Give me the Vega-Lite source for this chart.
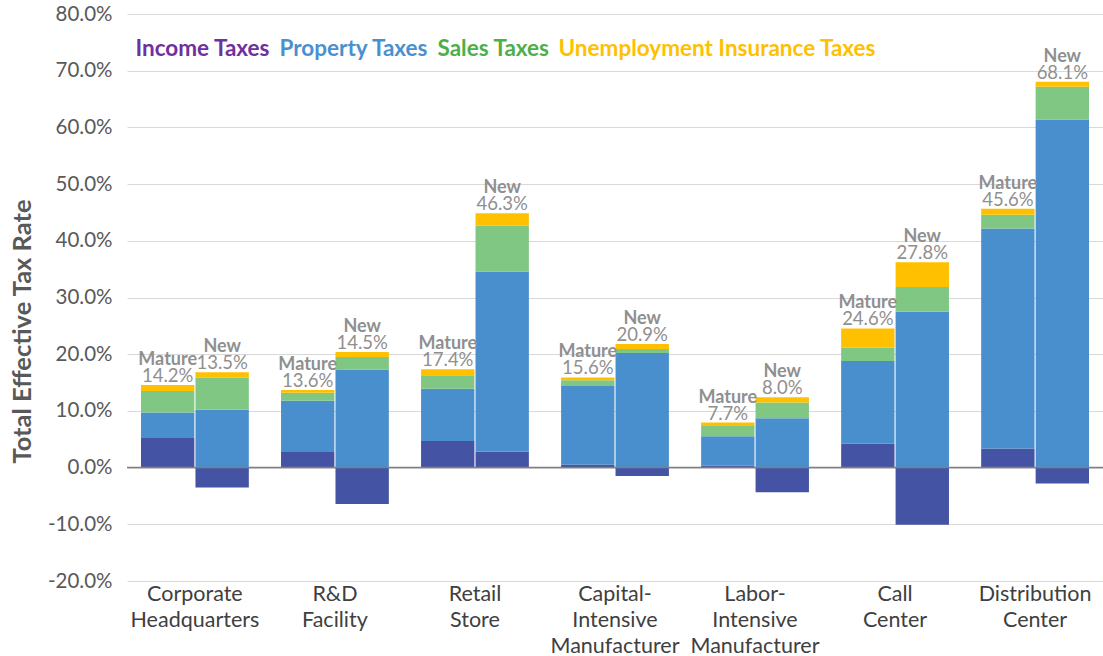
{
  "$schema": "https://vega.github.io/schema/vega-lite/v6.json",
  "width": 976,
  "height": 567,
  "autosize": {"type": "none"},
  "padding": {"left": 127, "top": 14, "right": 0, "bottom": 75},
  "background": "white",
  "config": {"font": "Lato", "view": {"stroke": null}},
  "data": {"values": [
    {"category": "Corporate Headquarters", "vintage": "Mature", "Income Taxes": 5.2, "Property Taxes": 4.5, "Sales Taxes": 3.8, "Unemployment Insurance Taxes": 1.05, "total": 0.142},
    {"category": "Corporate Headquarters", "vintage": "New", "Income Taxes": -3.5, "Property Taxes": 10.2, "Sales Taxes": 5.7, "Unemployment Insurance Taxes": 0.9, "total": 0.135},
    {"category": "R&D Facility", "vintage": "Mature", "Income Taxes": 2.9, "Property Taxes": 8.9, "Sales Taxes": 1.4, "Unemployment Insurance Taxes": 0.5, "total": 0.136},
    {"category": "R&D Facility", "vintage": "New", "Income Taxes": -6.4, "Property Taxes": 17.3, "Sales Taxes": 2.2, "Unemployment Insurance Taxes": 0.9, "total": 0.145},
    {"category": "Retail Store", "vintage": "Mature", "Income Taxes": 4.7, "Property Taxes": 9.2, "Sales Taxes": 2.4, "Unemployment Insurance Taxes": 1.05, "total": 0.174},
    {"category": "Retail Store", "vintage": "New", "Income Taxes": 2.8, "Property Taxes": 31.8, "Sales Taxes": 8.05, "Unemployment Insurance Taxes": 2.2, "total": 0.463},
    {"category": "Capital-Intensive Manufacturer", "vintage": "Mature", "Income Taxes": 0.5, "Property Taxes": 13.9, "Sales Taxes": 1.0, "Unemployment Insurance Taxes": 0.5, "total": 0.156},
    {"category": "Capital-Intensive Manufacturer", "vintage": "New", "Income Taxes": -1.5, "Property Taxes": 20.2, "Sales Taxes": 0.7, "Unemployment Insurance Taxes": 0.9, "total": 0.209},
    {"category": "Labor-Intensive Manufacturer", "vintage": "Mature", "Income Taxes": 0.35, "Property Taxes": 5.2, "Sales Taxes": 1.9, "Unemployment Insurance Taxes": 0.5, "total": 0.077},
    {"category": "Labor-Intensive Manufacturer", "vintage": "New", "Income Taxes": -4.35, "Property Taxes": 8.7, "Sales Taxes": 2.8, "Unemployment Insurance Taxes": 0.9, "total": 0.08},
    {"category": "Call Center", "vintage": "Mature", "Income Taxes": 4.2, "Property Taxes": 14.6, "Sales Taxes": 2.4, "Unemployment Insurance Taxes": 3.35, "total": 0.246},
    {"category": "Call Center", "vintage": "New", "Income Taxes": -10.1, "Property Taxes": 27.5, "Sales Taxes": 4.35, "Unemployment Insurance Taxes": 4.35, "total": 0.278},
    {"category": "Distribution Center", "vintage": "Mature", "Income Taxes": 3.35, "Property Taxes": 38.8, "Sales Taxes": 2.45, "Unemployment Insurance Taxes": 1.05, "total": 0.456},
    {"category": "Distribution Center", "vintage": "New", "Income Taxes": -2.8, "Property Taxes": 61.4, "Sales Taxes": 5.75, "Unemployment Insurance Taxes": 0.9, "total": 0.681}
  ]},
  "layer": [
    {
      "transform": [{"fold": ["Income Taxes", "Property Taxes", "Sales Taxes", "Unemployment Insurance Taxes"], "as": ["tax", "value"]}],
      "mark": {"type": "bar"},
      "encoding": {
        "x": {
          "field": "category", "type": "nominal",
          "sort": ["Corporate Headquarters", "R&D Facility", "Retail Store", "Capital-Intensive Manufacturer", "Labor-Intensive Manufacturer", "Call Center", "Distribution Center"],
          "scale": {"paddingInner": 0.23, "paddingOuter": 0.1},
          "axis": {
            "title": null,
            "labelExpr": "split(replace(replace(datum.label, regexp('-', 'g'), '-|'), regexp(' ', 'g'), '|'), '|')",
            "labelFontSize": 21.5, "labelColor": "#404040", "labelLineHeight": 26,
            "labelPadding": 2, "labelAngle": 0, "labelBaseline": "top",
            "ticks": false, "domain": false, "grid": false, "labelLimit": 300
          }
        },
        "xOffset": {"field": "vintage", "type": "nominal", "sort": ["Mature", "New"], "scale": {"paddingInner": 0.02}},
        "y": {
          "field": "value", "type": "quantitative", "stack": "zero",
          "scale": {"domain": [-20, 80], "nice": false, "zero": false},
          "axis": {
            "title": "Total Effective Tax Rate",
            "values": [-20, -10, 0, 10, 20, 30, 40, 50, 60, 70, 80],
            "labelExpr": "(datum.value < 0 ? '-' : '') + format(abs(datum.value), '.1f') + '%'",
            "labelFontSize": 20.5, "labelColor": "#595959", "labelPadding": 15,
            "ticks": false, "domain": false, "grid": true, "gridColor": "#D9D9D9", "gridWidth": 1,
            "titleFontSize": 25.5, "titleFontWeight": "bold", "titleColor": "#595959",
            "titleX": -105, "titleY": 317, "titleAngle": -90, "titleAlign": "center", "titleBaseline": "middle"
          }
        },
        "color": {
          "field": "tax", "type": "nominal",
          "scale": {"domain": ["Income Taxes", "Property Taxes", "Sales Taxes", "Unemployment Insurance Taxes"], "range": ["#4453A3", "#4A8FCD", "#80C783", "#FFC000"]},
          "legend": {
            "orient": "none", "legendX": 0, "legendY": 24, "direction": "horizontal", "columns": 4,
            "title": null, "symbolSize": 0, "symbolOpacity": 0, "symbolStrokeWidth": 0,
            "labelOffset": -14, "columnPadding": 0, "labelFontSize": 22.5, "labelFontWeight": "bold",
            "labelFont": "Lato", "labelLimit": 0,
            "encode": {"labels": {"update": {"fill": {"signal": "datum.value === 'Income Taxes' ? '#7030A0' : datum.value === 'Property Taxes' ? '#4A90D0' : datum.value === 'Sales Taxes' ? '#4DAF4A' : '#FFC000'"}}}}
          }
        },
        "order": {"field": "tax", "type": "nominal", "sort": "ascending"}
      }
    },
    {
      "data": {"values": [{}]},
      "mark": {"type": "rule", "color": "#7F7F7F", "strokeWidth": 1.5},
      "encoding": {"y": {"datum": 0}}
    },
    {
      "transform": [
        {"fold": ["Income Taxes", "Property Taxes", "Sales Taxes", "Unemployment Insurance Taxes"], "as": ["tax", "value"]},
        {"filter": "datum.value > 0"},
        {"aggregate": [{"op": "sum", "field": "value", "as": "top"}], "groupby": ["category", "vintage", "total"]}
      ],
      "mark": {"type": "text", "baseline": "alphabetic", "align": "center", "dy": -3, "fontSize": 18.5, "color": "#8F8F8F"},
      "encoding": {
        "x": {"field": "category", "type": "nominal", "sort": ["Corporate Headquarters", "R&D Facility", "Retail Store", "Capital-Intensive Manufacturer", "Labor-Intensive Manufacturer", "Call Center", "Distribution Center"]},
        "xOffset": {"field": "vintage", "type": "nominal", "sort": ["Mature", "New"]},
        "y": {"field": "top", "type": "quantitative"},
        "text": {"field": "total", "type": "quantitative", "format": ".1%"}
      }
    },
    {
      "transform": [
        {"fold": ["Income Taxes", "Property Taxes", "Sales Taxes", "Unemployment Insurance Taxes"], "as": ["tax", "value"]},
        {"filter": "datum.value > 0"},
        {"aggregate": [{"op": "sum", "field": "value", "as": "top"}], "groupby": ["category", "vintage"]}
      ],
      "mark": {"type": "text", "baseline": "alphabetic", "align": "center", "dy": -20, "fontSize": 18, "fontWeight": "bold", "color": "#8F8F8F"},
      "encoding": {
        "x": {"field": "category", "type": "nominal", "sort": ["Corporate Headquarters", "R&D Facility", "Retail Store", "Capital-Intensive Manufacturer", "Labor-Intensive Manufacturer", "Call Center", "Distribution Center"]},
        "xOffset": {"field": "vintage", "type": "nominal", "sort": ["Mature", "New"]},
        "y": {"field": "top", "type": "quantitative"},
        "text": {"field": "vintage", "type": "nominal"}
      }
    }
  ]
}
